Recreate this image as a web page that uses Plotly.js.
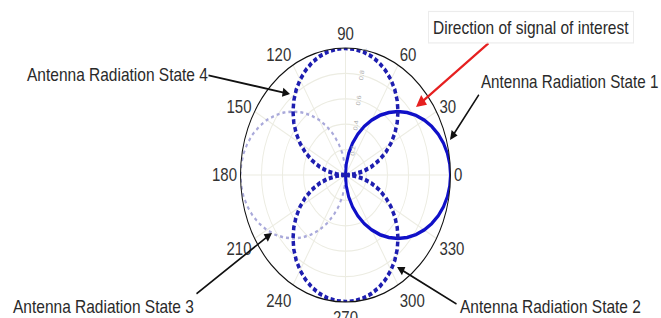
<!DOCTYPE html>
<html>
<head>
<meta charset="utf-8">
<script src="https://cdn.plot.ly/plotly-3.0.1.min.js"></script>
<style>
  html, body { margin: 0; padding: 0; background: #fff; overflow: hidden; }
  #wrap { width: 661px; height: 318px; overflow: hidden; }
  #chart { width: 661px; height: 263px; transform: scaleY(1.20913); transform-origin: 0 0; }
</style>
</head>
<body>
<div id="wrap"><div id="chart"></div></div>
<script>
// Lobe shape: angular offset from lobe axis (deg) and gain
const lobeOffset = [-90,-85,-80,-75,-70,-65,-60,-55,-50,-45,-40,-35,-30,-25,-20,-15,-10,-5,0,
                    5,10,15,20,25,30,35,40,45,50,55,60,65,70,75,80,85,90];
const lobeGain = [0,0.087,0.174,0.259,0.342,0.423,0.5,0.574,0.643,0.707,0.766,0.819,0.866,0.906,0.94,0.966,0.985,0.996,1,
                  0.996,0.985,0.966,0.94,0.906,0.866,0.819,0.766,0.707,0.643,0.574,0.5,0.423,0.342,0.259,0.174,0.087,0];
const stateNames = ['Antenna Radiation State 1','Antenna Radiation State 2','Antenna Radiation State 3','Antenna Radiation State 4'];
const stateDirection = [0, 270, 180, 90];
const angleTicks = [0,30,60,90,120,150,180,210,240,270,300,330];
const radialTicks = [0.2,0.4,0.6,0.8,1];

const styles = [
  {color:'#1010c8', width:3, dash:'solid'},
  {color:'#1e1eb0', width:3.5, dash:'4px,2.5px'},
  {color:'#a9a9da', width:2, dash:'dot'},
  {color:'#1e1eb0', width:3.5, dash:'4px,2.5px'}
];
const drawOrder = [2,0,1,3];
const traces = drawOrder.map(i => ({
  type:'scatterpolar', mode:'lines', name: stateNames[i],
  theta: lobeOffset.map(o => stateDirection[i] + o),
  r: lobeGain.slice(),
  line: styles[i], hoverinfo:'skip'
}));

const W = 661, H = 318, S = 318/263;
function ax(x){ return x / W; }
function ay(y){ return 1 - y / H; }
function arrow(head, tail, color, width){
  return {xref:'paper', yref:'paper', x: ax(head[0]), y: ay(head[1]),
    ax: tail[0]-head[0], ay: (tail[1]-head[1])/S, text:'', showarrow:true,
    arrowhead:2, arrowsize:1, arrowwidth:width, arrowcolor:color, standoff:0, startstandoff:0};
}
function label(txt, x, y, xanchor, extra){
  return Object.assign({xref:'paper', yref:'paper', x: ax(x), y: ay(y), text: txt, showarrow:false,
    xanchor: xanchor, yanchor:'middle', font:{family:'Liberation Sans, Arial, sans-serif', size:15.5, color:'#2a2a2a'}}, extra||{});
}

const annotations = [
  arrow([416,107],[490,42],'#e62020',2),
  arrow([450,140],[480,93],'#111',1.5),
  arrow([290,94],[207,75],'#111',1.5),
  arrow([272,233],[195,295],'#111',1.5),
  arrow([397,267],[458,305],'#111',1.5),
  label('Direction of signal of interest', 428, 27, 'left', {bordercolor:'#ececec', borderwidth:1, borderpad:4}),
  label(stateNames[0], 479, 82, 'left', {font:{family:'Liberation Sans, Arial, sans-serif', size:15.2, color:'#2a2a2a'}}),
  label(stateNames[3], 25, 74, 'left'),
  label(stateNames[2], 11, 307, 'left'),
  label(stateNames[1], 458, 306, 'left')
];

const layout = {
  width: 661, height: 263,
  margin:{l:0,r:0,t:0,b:0},
  paper_bgcolor:'#fff',
  showlegend:false,
  polar:{
    domain:{x:[240.5/661, 450.5/661], y:[0.05046, 0.8489]},
    bgcolor:'#fff',
    angularaxis:{
      rotation:0, direction:'counterclockwise',
      tickvals: angleTicks, ticktext: angleTicks.map(String),
      ticks:'', showline:true, linecolor:'#111', linewidth:1,
      gridcolor:'#ecece2', gridwidth:1,
      tickfont:{family:'Liberation Sans, Arial, sans-serif', size:15, color:'#333'}
    },
    radialaxis:{
      range:[0,1], tickvals: radialTicks, ticks:'', showline:false, angle:82,
      gridcolor:'#ecece2', gridwidth:1,
      tickfont:{family:'Liberation Sans, Arial, sans-serif', size:6, color:'#aaa'}
    }
  },
  annotations: annotations
};

Plotly.newPlot('chart', traces, layout, {displayModeBar:false, staticPlot:true});
</script>
</body>
</html>
